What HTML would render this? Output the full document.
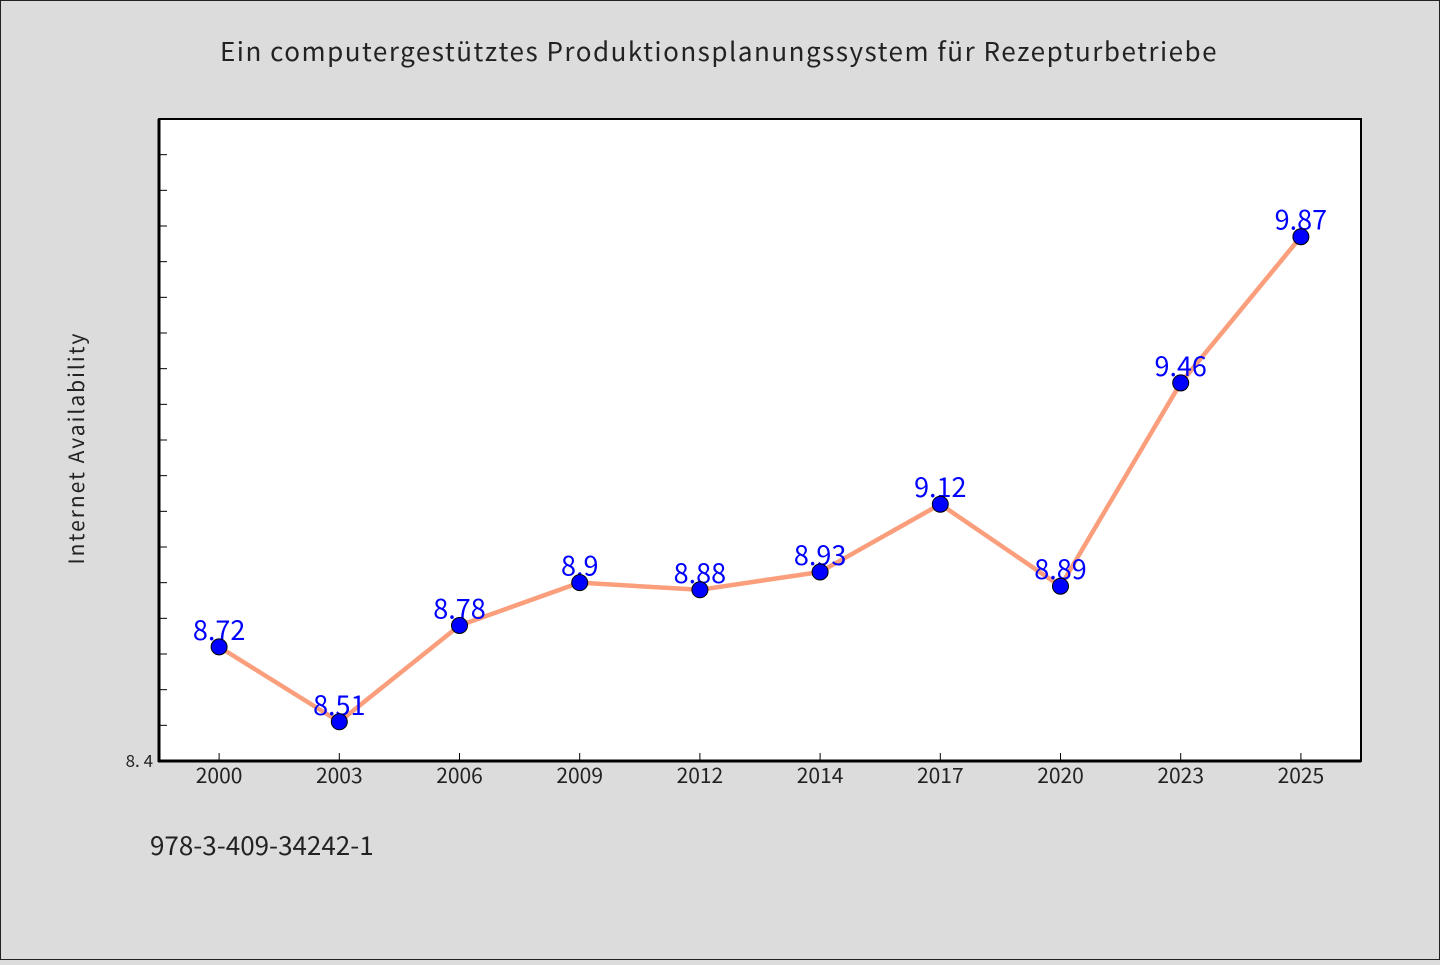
<!DOCTYPE html>
<html><head><meta charset="utf-8"><style>
body{margin:0;background:#dcdcdc;}
svg text{font-family:"WenQuanYi Zen Hei","Noto Sans CJK JP",sans-serif;}
</style></head><body>
<svg width="1440" height="960" xmlns="http://www.w3.org/2000/svg">
<rect x="0.5" y="0.5" width="1439" height="959" fill="#dcdcdc" stroke="#222"/>
<text x="719" y="61" text-anchor="middle" font-size="26" fill="#222" letter-spacing="1.5">Ein computergestütztes Produktionsplanungssystem für Rezepturbetriebe</text>
<rect x="159" y="119" width="1202" height="642" fill="#fff" stroke="#000" stroke-width="2"/>
<line x1="159" y1="119" x2="159" y2="762" stroke="#000" stroke-width="3"/>
<line x1="158" y1="761" x2="1361" y2="761" stroke="#000" stroke-width="3"/>
<text transform="translate(84,448) rotate(-90)" text-anchor="middle" font-size="21" fill="#222" letter-spacing="2">Internet Availability</text>
<text x="150" y="855" font-size="26" fill="#222">978-3-409-34242-1</text>
<g id="ticks"></g><g id="series"></g>
</svg>
<script>
const categories=["2000","2003","2006","2009","2012","2014","2017","2020","2023","2025"];
const values=[8.72,8.51,8.78,8.9,8.88,8.93,9.12,8.89,9.46,9.87];
const valueLabels=["8.72","8.51","8.78","8.9","8.88","8.93","9.12","8.89","9.46","9.87"];
const yMin=8.4,yMax=10.2;
const L=159,R=1361,T=119,B=761;
const ns="http://www.w3.org/2000/svg";
function xs(i){return L+(R-L)/categories.length*(i+0.5);}
function ys(v){return B-(v-yMin)/(yMax-yMin)*(B-T);}
function mk(tag,a,p){const e=document.createElementNS(ns,tag);for(const k in a)e.setAttribute(k,a[k]);p.appendChild(e);return e;}
const tg=document.getElementById('ticks'),sg=document.getElementById('series');
for(let k=1;k<18;k++){const v=yMin+k*0.1;const y=ys(v);
const t=mk('line',{x1:L,x2:L+8,y1:y,y2:y,stroke:'#000','stroke-width':1},tg);

}
const yl=mk('text',{x:153,y:767,'text-anchor':'end','font-size':17,fill:'#222'},tg);yl.textContent=yMin.toFixed(1).replace('.','. ');


categories.forEach((c,i)=>{const x=xs(i);
const t=mk('line',{x1:x,x2:x,y1:B,y2:B-8,stroke:'#000','stroke-width':1},tg);


const l=mk('text',{x:x,y:783,'text-anchor':'middle','font-size':21,fill:'#222'},tg);l.textContent=c;

});
const pl=mk('polyline',{points:values.map((v,i)=>xs(i)+','+ys(v)).join(' '),fill:'none',stroke:'#fa9e7c','stroke-width':4.5,'stroke-linejoin':'round'},sg);


values.forEach((v,i)=>{const l=mk('text',{x:xs(i),y:ys(v)-7,'text-anchor':'middle','font-size':27,fill:'#0000ff'},sg);l.textContent=valueLabels[i];

});
values.forEach((v,i)=>{const c=mk('circle',{cx:xs(i),cy:ys(v),r:8,fill:'#0000ff',stroke:'#000','stroke-width':1},sg);

});
</script>
</body></html>
